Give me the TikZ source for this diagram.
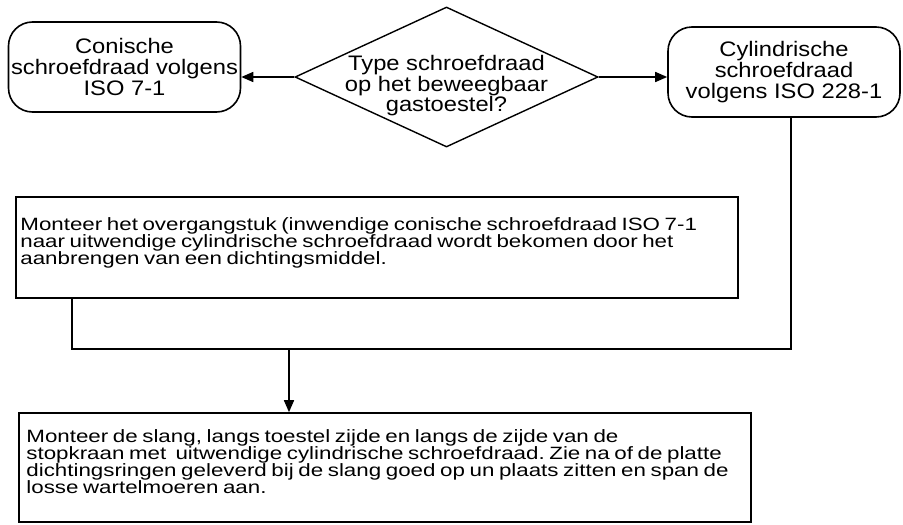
\documentclass[tikz,border=0pt]{standalone}
\usepackage{fontspec}
\usepackage{tikz}
\usetikzlibrary{shapes.geometric, arrows.meta, positioning}
\newfontfamily\labelfont[FakeStretch=1.13]{Liberation Sans}
\newfontfamily\notefont[FakeStretch=1.255]{Liberation Sans}
\newcommand\notesize{\notefont\fontsize{17.8}{17.2}\selectfont\frenchspacing
  \setlength{\lineskiplimit}{-20pt}\setlength{\spaceskip}{4.6pt}}

\begin{document}
\begin{tikzpicture}[
    x=1pt, y=-1pt,
    terminal/.style={draw, rounded corners=24pt, line width=1.6pt,
                     minimum width=232pt, minimum height=90pt, inner sep=0pt,
                     align=center, font=\labelfont\fontsize{21}{21}\selectfont},
    decision/.style={draw, diamond, line width=1.4pt, inner sep=0pt,
                     minimum width=303pt, minimum height=140pt},
    stepbox/.style={draw, rectangle, line width=1.6pt, inner sep=0pt},
    note/.style={align=left, inner sep=0pt, anchor=north west, font=\notesize},
    link/.style={draw, line width=1.6pt},
    arrow/.style={link, -{Triangle[length=12pt, width=10pt]}}
]
    \useasboundingbox (0,0) rectangle (903,525);

    % top row
    \node[terminal] (conic) at (124.5,67) {Conische\\schroefdraad volgens\\ISO 7-1};
    \node[decision] (type) at (446.5,77) {};
    \node[align=center, inner sep=0pt, font=\labelfont\fontsize{21}{20.5}\selectfont]
        (typetext) at (446.5,86) {Type schroefdraad\\op het beweegbaar\\gastoestel?};
    \node[terminal] (cyl) at (784,72) {Cylindrische\\schroefdraad\\volgens ISO 228-1};

    % steps
    \node[stepbox, minimum width=722pt, minimum height=101pt] (adapter) at (377,247.5) {};
    \node[note] (adaptertext) at ([shift={(5,21)}]adapter.north west)
        {Monteer het overgangstuk (inwendige conische schroefdraad ISO 7-1\\
         naar uitwendige cylindrische schroefdraad wordt bekomen door het\\
         aanbrengen van een dichtingsmiddel.};
    \node[stepbox, minimum width=732pt, minimum height=109pt] (hose) at (385,467.5) {};
    \node[note] (hosetext) at ([shift={(8,17)}]hose.north west)
        {Monteer de slang, langs toestel zijde en langs de zijde van de\\
         stopkraan met~ uitwendige cylindrische schroefdraad. Zie na of de platte\\
         dichtingsringen geleverd bij de slang goed op un plaats zitten en span de\\
         losse wartelmoeren aan.};

    % connectors
    \coordinate (merge) at (289,349);
    \coordinate (dropL) at (72,0);
    \coordinate (dropR) at (791,0);
    \draw[arrow] (type.west) -- (type.west -| conic.east);
    \draw[arrow] (type.east) -- (type.east -| cyl.west);
    \draw[link] (adapter.south -| dropL) |- (merge) -| (cyl.south -| dropR);
    \draw[arrow] (merge) -- (merge |- hose.north);
\end{tikzpicture}
\end{document}
